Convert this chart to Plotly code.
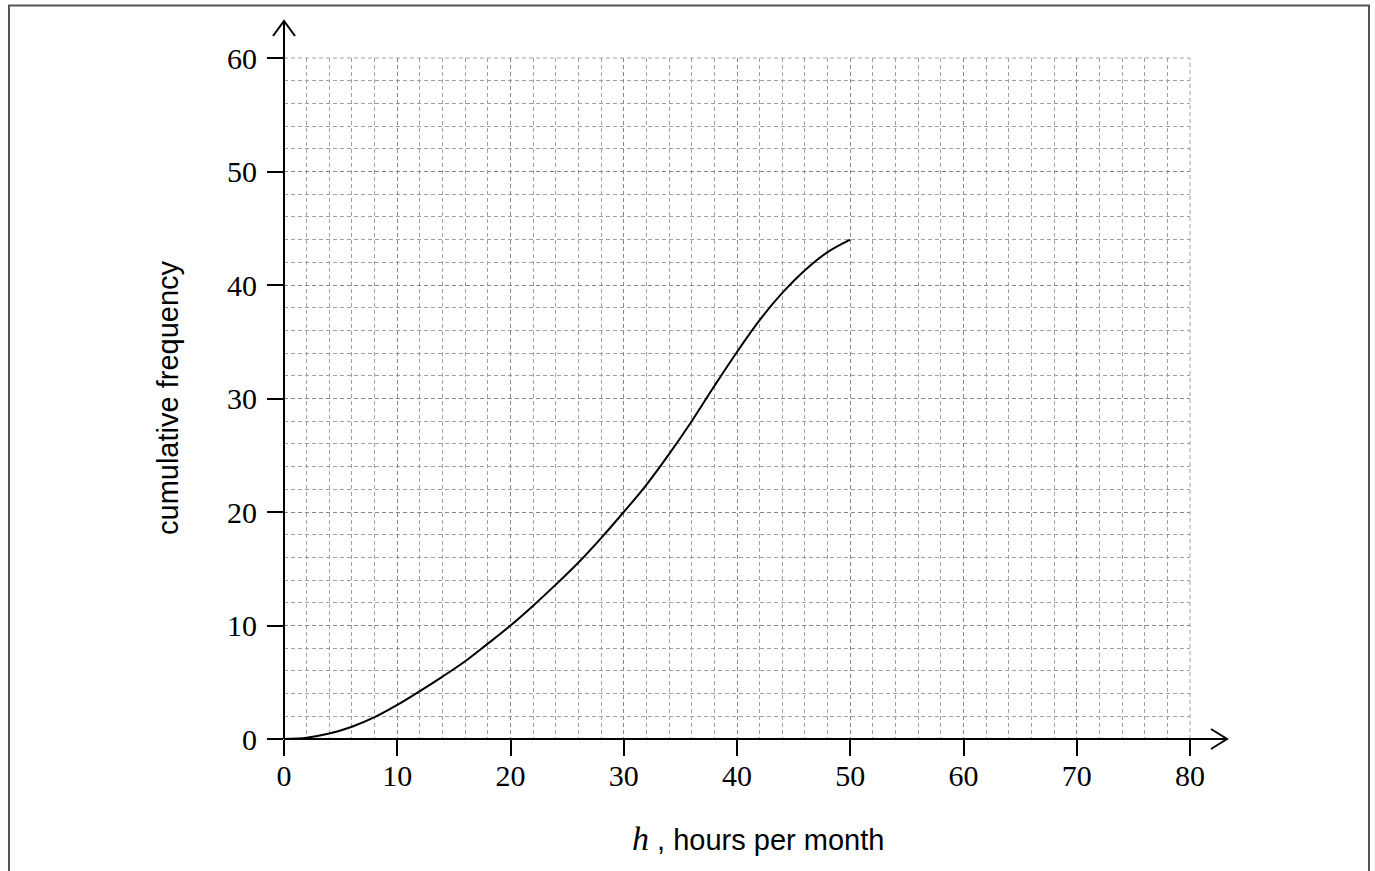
import plotly.graph_objects as go

hours = [0, 2, 4, 6, 8, 10, 12, 14, 16, 18, 20, 22, 24, 26, 28, 30, 32, 34, 36, 38, 40, 42, 44, 46, 48, 50]
cum_freq = [0, 0.12, 0.48, 1.08, 1.92, 3.0, 4.22, 5.5, 6.85, 8.4, 10.0, 11.75, 13.6, 15.55, 17.7, 20.0, 22.4, 25.1, 28.0, 31.1, 34.1, 36.9, 39.3, 41.3, 42.9, 44.0]
x_ticks = [0, 10, 20, 30, 40, 50, 60, 70, 80]
y_ticks = [0, 10, 20, 30, 40, 50, 60]

W, H = 1375, 871
L, R, T, B = 284, 1190, 58, 739
pw, ph = R - L, B - T

def px(x):
    return (x - L) / pw

def py(y):
    return (B - y) / ph

fig = go.Figure()
fig.add_trace(go.Scatter(x=hours, y=cum_freq, mode="lines",
                         line=dict(color="black", width=2, shape="spline", smoothing=1.0),
                         hoverinfo="skip", showlegend=False))

grid_common = dict(showgrid=True, gridcolor="#888888", gridwidth=1, griddash="4px,3px",
                   zeroline=False, showline=False, ticks="outside", ticklen=16, tickwidth=2,
                   tickcolor="black",
                   tickfont=dict(family="Liberation Serif", size=30, color="black"))

fig.update_xaxes(range=[0, 80], tickvals=x_ticks, ticktext=[str(v) for v in x_ticks],
                 ticklabelstandoff=-6,
                 minor=dict(dtick=2, showgrid=True, gridcolor="#a0a0a0", griddash="4px,3px", gridwidth=1),
                 **grid_common)
fig.update_yaxes(range=[0, 60], tickvals=y_ticks, ticktext=[str(v) for v in y_ticks],
                 ticklabelstandoff=4,
                 minor=dict(dtick=2, showgrid=True, gridcolor="#a0a0a0", griddash="4px,3px", gridwidth=1),
                 **grid_common)

shapes = [
    # grid edges at the top and right of the range
    dict(type="line", xref="paper", yref="paper", x0=0, y0=1, x1=1, y1=1,
         line=dict(color="#a0a0a0", width=1, dash="4px,3px")),
    dict(type="line", xref="paper", yref="paper", x0=1, y0=0, x1=1, y1=1,
         line=dict(color="#a0a0a0", width=1, dash="4px,3px")),
    # axes lines with arrows
    dict(type="line", xref="paper", yref="paper", x0=0, y0=0, x1=0, y1=py(21),
         line=dict(color="black", width=2)),
    dict(type="line", xref="paper", yref="paper", x0=0, y0=0, x1=px(1226), y1=0,
         line=dict(color="black", width=2)),
    dict(type="path", xref="paper", yref="paper",
         path=f"M {px(273)},{py(36)} L {px(284)},{py(21)} L {px(295)},{py(36)}",
         line=dict(color="black", width=2)),
    dict(type="path", xref="paper", yref="paper",
         path=f"M {px(1211)},{py(729)} L {px(1227)},{py(739)} L {px(1211)},{py(749)}",
         line=dict(color="black", width=2)),
    # outer frame
    dict(type="path", xref="paper", yref="paper",
         path=f"M {px(9)},{py(900)} L {px(9)},{py(5.5)} L {px(1369)},{py(5.5)} L {px(1369)},{py(900)}",
         line=dict(color="#555555", width=2)),
]

annotations = [
    dict(xref="paper", yref="paper", x=px(168), y=py(398), text="cumulative frequency",
         textangle=-90, showarrow=False, font=dict(family="Liberation Sans", size=29, color="black"),
         xanchor="center", yanchor="middle"),
    dict(xref="paper", yref="paper", x=px(758), y=py(838),
         text='<span style="font-family:Liberation Serif;font-size:34px"><i>h</i></span> , hours per month',
         showarrow=False, font=dict(family="Liberation Sans", size=29, color="black"),
         xanchor="center", yanchor="middle"),
]

fig.update_layout(width=W, height=H, margin=dict(l=L, r=W - R, t=T, b=H - B),
                  plot_bgcolor="white", paper_bgcolor="white",
                  shapes=shapes, annotations=annotations, showlegend=False)

fig.write_html("out.html", config={"displayModeBar": False},
               post_script="document.body.style.margin='0px';document.body.style.overflow='hidden';")
